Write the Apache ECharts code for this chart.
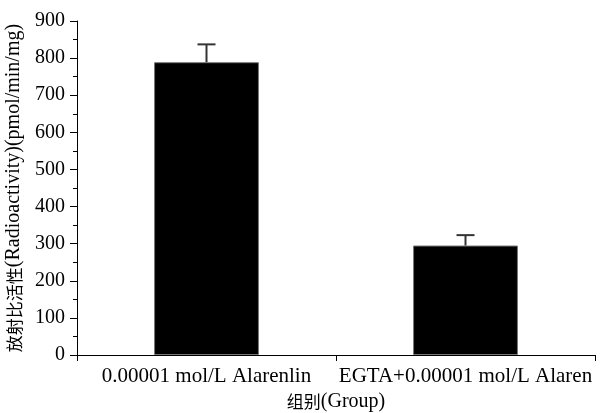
<!DOCTYPE html>
<html>
<head>
<meta charset="utf-8">
<script src="https://cdn.jsdelivr.net/npm/echarts@6/dist/echarts.min.js"></script>
<style>
  html, body { margin: 0; padding: 0; background: #fff; }
  #chart { width: 607px; height: 413px; }
</style>
</head>
<body>
<div id="chart"></div>
<script>
// groups and measured values
var groups = ['0.00001 mol/L Alarenlin', 'EGTA+0.00001 mol/L Alaren']
var means = [789, 295]
var errors = [48, 28]
var yTicks = [0, 900, 100]

var font = '"Liberation Serif", "Noto Sans CJK SC", serif'
var cnStyle = { fontFamily: '"Noto Sans CJK SC", sans-serif', fontSize: 17, color: '#000' }

var chart = echarts.init(document.getElementById('chart'))

chart.setOption({
  animation: false,
  grid: {
    left: 77,
    right: 12,
    top: 21,
    bottom: 58,
    containLabel: false,
    outerBoundsMode: 'none'
  },
  xAxis: {
    type: 'category',
    data: groups,
    name: '{cn|组别}(Group)',
    nameLocation: 'middle',
    nameGap: 35,
    nameTextStyle: { fontFamily: font, fontSize: 20, color: '#000', rich: { cn: cnStyle } },
    axisLine: { lineStyle: { color: '#000', width: 1 } },
    axisTick: { show: true, length: 6, alignWithLabel: false, lineStyle: { color: '#000' } },
    axisLabel: { interval: 0, fontFamily: font, fontSize: 21, color: '#000', margin: 11, hideOverlap: false },
    splitLine: { show: false }
  },
  yAxis: {
    type: 'value',
    min: yTicks[0],
    max: yTicks[1],
    interval: yTicks[2],
    name: '{cn|放射比活性}(Radioactivity)(pmol/min/mg)',
    nameLocation: 'middle',
    nameGap: 51,
    nameRotate: 90,
    nameTextStyle: { fontFamily: font, fontSize: 20, color: '#000', rich: { cn: cnStyle } },
    axisLine: { show: true, lineStyle: { color: '#000', width: 1 } },
    axisTick: { show: true, length: 7, lineStyle: { color: '#000' } },
    minorTick: { show: true, splitNumber: 2, length: 4, lineStyle: { color: '#000' } },
    axisLabel: { fontFamily: font, fontSize: 20, color: '#000', margin: 12 },
    splitLine: { show: false }
  },
  series: [
    {
      type: 'bar',
      data: means,
      barWidth: '40.5%',
      itemStyle: { color: '#000', borderColor: '#777', borderWidth: 1 }
    },
    {
      type: 'custom',
      data: means.map(function (m, i) { return [i, m, m + errors[i]] }),
      z: 5,
      renderItem: function (params, api) {
        var base = api.coord([api.value(0), api.value(1)])
        var top = api.coord([api.value(0), api.value(2)])
        var half = 9
        var style = { stroke: '#333', lineWidth: 2 }
        return {
          type: 'group',
          children: [
            { type: 'line', shape: { x1: base[0], y1: base[1], x2: top[0], y2: top[1] }, style: style },
            { type: 'line', shape: { x1: top[0] - half, y1: top[1], x2: top[0] + half, y2: top[1] }, style: style }
          ]
        }
      }
    }
  ]
})
</script>
</body>
</html>
